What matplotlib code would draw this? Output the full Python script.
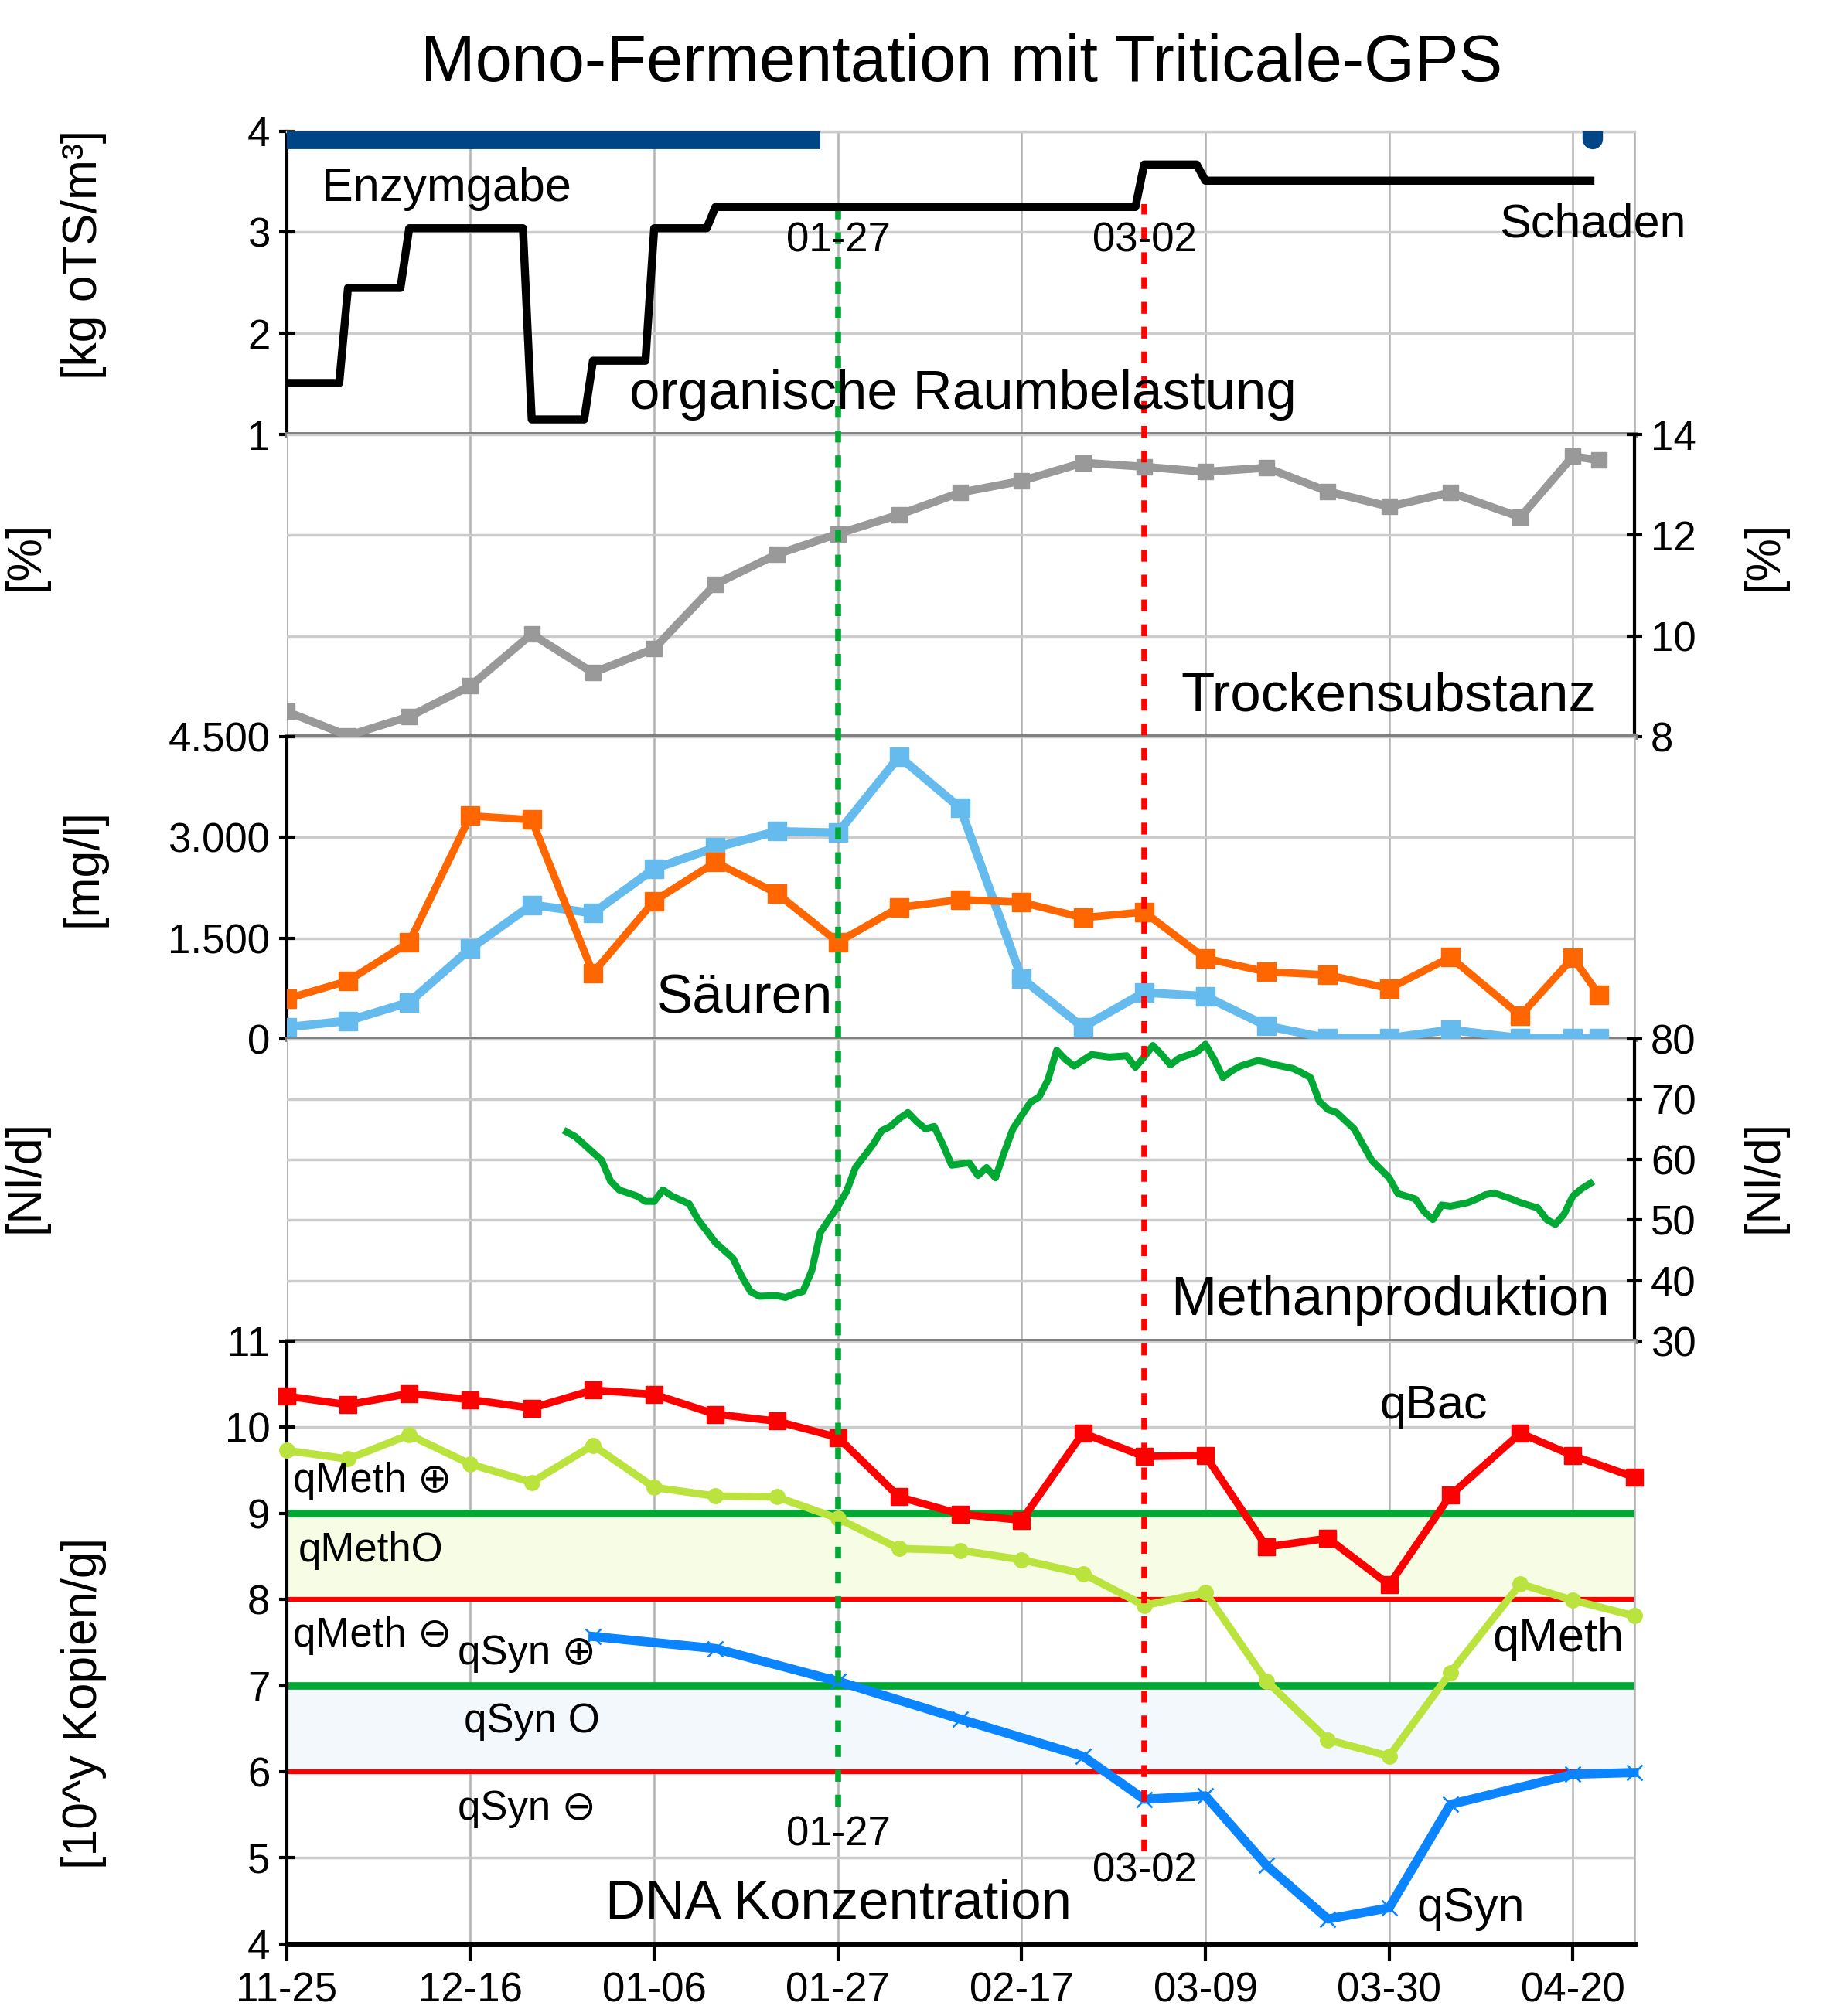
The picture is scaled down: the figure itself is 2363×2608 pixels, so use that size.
import matplotlib
matplotlib.use("Agg")
import matplotlib.pyplot as plt
import matplotlib.transforms as mtransforms
from matplotlib.lines import Line2D

plt.rcParams['font.family'] = ['Liberation Sans', 'DejaVu Sans']

# x axis: days since 2015-11-25
tick_days = [0, 21, 42, 63, 84, 105, 126, 147]
tick_labels = ["11-25", "12-16", "01-06", "01-27", "02-17", "03-09", "03-30", "04-20"]
x_max = 154
marker_days = {"01-27": 63, "03-02": 98}

# organische Raumbelastung [kg oTS/m3]
orb_days = [0, 6, 7, 13, 14, 27, 28, 34, 35, 41, 42, 48, 49, 97, 98, 104, 105, 149]
orb_vals = [1.51, 1.51, 2.45, 2.45, 3.04, 3.04, 1.15, 1.15, 1.73, 1.73, 3.04, 3.04,
            3.25, 3.25, 3.67, 3.67, 3.51, 3.51]
enzym_days = [0, 61]
schaden_day = 149.3

# Trockensubstanz [%]
ts_days = [0, 7, 14, 21, 28, 35, 42, 49, 56, 63, 70, 77, 84, 91, 98, 105, 112, 119,
           126, 133, 141, 147, 150]
ts_vals = [8.50, 8.02, 8.40, 9.01, 10.04, 9.27, 9.75, 11.03, 11.62, 12.03, 12.41, 12.85,
           13.08, 13.44, 13.36, 13.26, 13.34, 12.87, 12.57, 12.85, 12.36, 13.57, 13.49]

# Säuren [mg/l]
acid_days = [0, 7, 14, 21, 28, 35, 42, 49, 56, 63, 70, 77, 84, 91, 98, 105, 112, 119,
             126, 133, 141, 147, 150]
acid_orange = [595, 864, 1440, 3321, 3263, 979, 2054, 2630, 2169, 1440, 1958, 2073,
               2035, 1804, 1889, 1198, 998, 952, 749, 1217, 346, 1209, 653]
acid_blue = [173, 269, 545, 1344, 1996, 1873, 2534, 2849, 3091, 3071, 4204, 3436,
             902, 173, 691, 634, 192, 10, 10, 134, 10, 10, 10]

# Methanproduktion [Nl/d]
ch4_days = [32, 33, 34, 36, 37, 38, 40, 41, 42, 43, 44, 46, 47, 49, 51, 52, 53, 54, 56,
            57, 58, 59, 60, 61, 63, 64, 65, 67, 68, 69, 70, 71, 72, 73, 74, 75, 76, 77,
            78, 79, 80, 81, 82, 83, 85, 86, 87, 88, 89, 90, 92, 93, 94, 96, 97, 98, 99,
            100, 101, 102, 104, 105, 106, 107, 108, 109, 111, 112, 113, 115, 116, 117,
            118, 119, 120, 122, 123, 124, 126, 127, 129, 130, 131, 132, 133, 135, 136,
            137, 138, 140, 141, 143, 144, 145, 146, 147, 148, 149]
ch4_vals = [64.6, 63.8, 62.5, 59.9, 56.5, 55.0, 54.0, 53.1, 53.1, 55.0, 54.0, 52.7,
            50.1, 46.3, 43.7, 40.7, 38.2, 37.4, 37.5, 37.2, 37.8, 38.2, 41.6, 48.0,
            52.3, 54.8, 58.7, 62.5, 64.8, 65.5, 66.8, 67.8, 66.3, 65.1, 65.5, 62.5,
            59.1, 59.3, 59.5, 57.4, 58.7, 57.0, 61.2, 65.1, 69.5, 70.4, 73.2, 78.1,
            76.6, 75.5, 77.4, 77.2, 77.0, 77.2, 75.3, 77.0, 78.9, 77.4, 75.7, 76.8,
            77.8, 79.1, 76.6, 73.6, 74.7, 75.5, 76.4, 76.1, 75.7, 75.1, 74.4, 73.6,
            69.7, 68.3, 67.8, 65.1, 62.5, 59.9, 57.0, 54.4, 53.5, 51.4, 50.1, 52.5,
            52.3, 52.9, 53.5, 54.2, 54.5, 53.5, 52.9, 52.0, 50.1, 49.3, 51.0, 54.0,
            55.2, 56.1]

# DNA Konzentration [10^y Kopien/g]
dna_days = [0, 7, 14, 21, 28, 35, 42, 49, 56, 63, 70, 77, 84, 91, 98, 105, 112, 119,
            126, 133, 141, 147, 154]
qbac = [10.36, 10.26, 10.39, 10.32, 10.22, 10.43, 10.38, 10.15, 10.07, 9.88, 9.19,
        8.99, 8.92, 9.93, 9.66, 9.67, 8.61, 8.71, 8.17, 9.21, 9.93, 9.67, 9.42]
qmeth = [9.73, 9.63, 9.91, 9.57, 9.36, 9.79, 9.30, 9.20, 9.19, 8.94, 8.59, 8.57,
         8.46, 8.30, 7.93, 8.08, 7.05, 6.37, 6.18, 7.15, 8.18, 7.99, 7.81]
qsyn_days = [35, 49, 63, 77, 91, 98, 105, 112, 119, 126, 133, 147, 154]
qsyn = [7.57, 7.43, 7.05, 6.61, 6.18, 5.68, 5.72, 4.91, 4.29, 4.42, 5.62, 5.97, 5.99]
qmeth_band = [8, 9]
qsyn_band = [6, 7]

# --- layout (figure fractions) ---
W, H = 1421.0, 1568.0
left, right = 223 / W, 1271 / W
edges = [102, 338, 573, 808, 1043, 1512]
fig = plt.figure(figsize=(23.63, 26.08), dpi=100)
axes = []
for i in range(5):
    y0 = 1 - edges[i + 1] / H
    y1 = 1 - edges[i] / H
    axes.append(fig.add_axes([left, y0, right - left, y1 - y0]))
ax1, ax2, ax3, ax4, ax5 = axes

for ax in axes:
    ax.set_xlim(0, x_max)
    ax.set_xticks(tick_days)
    ax.grid(axis='x', color='#b3b3b3', lw=1.8, zorder=0)
    ax.grid(axis='y', color='#cccccc', lw=2.5)
    ax.set_axisbelow(True)
    ax.spines['top'].set_visible(False)
    ax.spines['bottom'].set_color('#808080')
    ax.spines['bottom'].set_linewidth(5)
    ax.tick_params(axis='x', length=0, labelbottom=False)
    ax.tick_params(axis='y', direction='inout', length=15, width=3, labelsize=38, pad=8)
    for s in ('left', 'right'):
        ax.spines[s].set_color('#b3b3b3')
        ax.spines[s].set_linewidth(1.8)

for ax in (ax1, ax3, ax5):
    ax.spines['left'].set_color('black')
    ax.spines['left'].set_linewidth(3)
for ax in (ax2, ax4):
    ax.spines['right'].set_color('black')
    ax.spines['right'].set_linewidth(3)
    ax.yaxis.tick_right()
    ax.spines['left'].set_visible(False)

# panel 1
ax1.spines['top'].set_visible(True)
ax1.spines['top'].set_color('#cccccc')
ax1.spines['top'].set_linewidth(2.5)
ax1.set_ylim(1, 4)
ax1.set_yticks([1, 2, 3, 4])
ax1.plot(enzym_days, [4, 4], color='#004586', lw=33, solid_capstyle='butt', zorder=3)
ax1.plot([schaden_day, schaden_day], [3.92, 4.1], color='#004586', lw=19,
         solid_capstyle='round', zorder=3)
ax1.plot(orb_days, orb_vals, color='black', lw=7.5, solid_joinstyle='round', zorder=4)

# panel 2
ax2.set_ylim(8, 14)
ax2.set_yticks([8, 10, 12, 14])
ax2.plot(ts_days, ts_vals, color='#999999', lw=7.5, marker='s', ms=14, zorder=4)

# panel 3
ax3.set_ylim(0, 4500)
ax3.set_yticks([0, 1500, 3000, 4500])
ax3.set_yticklabels(["0", "1.500", "3.000", "4.500"])
ax3.plot(acid_days, acid_blue, color='#66bbee', lw=8, marker='s', ms=17, zorder=4)
ax3.plot(acid_days, acid_orange, color='#ff6600', lw=7, marker='s', ms=17, zorder=4)

# panel 4
ax4.set_ylim(30, 80)
ax4.set_yticks([30, 40, 50, 60, 70, 80])
ax4.plot(ch4_days, ch4_vals, color='#00a933', lw=6.5, zorder=4)

# panel 5
ax5.set_ylim(4, 11)
ax5.set_yticks(range(4, 12))
ax5.spines['bottom'].set_color('black')
ax5.spines['bottom'].set_linewidth(5)
ax5.tick_params(axis='x', direction='out', length=16, width=3, labelbottom=True,
                labelsize=38, pad=10)
ax5.set_xticklabels(tick_labels)
ax5.axhspan(qmeth_band[0], qmeth_band[1], color='#f6fde4', zorder=1)
ax5.axhspan(qsyn_band[0], qsyn_band[1], color='#f3f8fd', zorder=1)
for lo, hi in (qmeth_band, qsyn_band):
    ax5.axhline(hi, color='#00a933', lw=7, zorder=2)
    ax5.axhline(lo, color='#ff0000', lw=4.5, zorder=2)
ax5.plot(dna_days, qbac, color='#ff0000', lw=7, marker='s', ms=16, zorder=4, clip_on=False)
ax5.plot(dna_days, qmeth, color='#bbe33d', lw=7, marker='o', ms=14, zorder=4, clip_on=False)
ax5.plot(qsyn_days, qsyn, color='#0a84ff', lw=8.5, marker='x', ms=15, mew=1.8, zorder=4,
         clip_on=False)

# vertical event lines across all panels
trans = mtransforms.blended_transform_factory(ax5.transData, fig.transFigure)
fig.add_artist(Line2D([marker_days["01-27"]] * 2, [0.104, 0.8954], transform=trans,
                      color='#00a933', lw=5.5, ls=(0, (2, 2.2)), zorder=10))
fig.add_artist(Line2D([marker_days["03-02"]] * 2, [0.0816, 0.8986], transform=trans,
                      color='#ff0000', lw=5.5, ls=(0, (2, 2.2)), zorder=10))

def ft(x, y, s, size, ha='center', rot=0):
    fig.text(x / W, 1 - y / H, s, fontsize=size, ha=ha, va='center', rotation=rot,
             zorder=20)

ft(748, 50, "Mono-Fermentation mit Triticale-GPS", 61)
ft(65, 198, "[kg oTS/m³]", 45, rot=90)
ft(20, 432, "[%]", 45, rot=90)
ft(1372, 432, "[%]", 45, rot=90)
ft(65, 675, "[mg/l]", 45, rot=90)
ft(20, 915, "[Nl/d]", 45, rot=90)
ft(1372, 915, "[Nl/d]", 45, rot=90)
ft(65, 1325, "[10^y Kopien/g]", 45, rot=90)

ft(250, 147, "Enzymgabe", 44, ha='left')
ft(652, 187, "01-27", 38)
ft(890, 187, "03-02", 38)
ft(1239, 175, "Schaden", 44)
ft(749, 307, "organische Raumbelastung", 51)
ft(1080, 542, "Trockensubstanz", 51)
ft(579, 777, "Säuren", 51)
ft(1081, 1012, "Methanproduktion", 51)
ft(1115, 1094, "qBac", 44)
ft(228, 1152, "qMeth ⊕", 38, ha='left')
ft(232, 1206, "qMethO", 38, ha='left')
ft(228, 1272, "qMeth ⊖", 38, ha='left')
ft(356, 1286, "qSyn ⊕", 38, ha='left')
ft(361, 1339, "qSyn O", 38, ha='left')
ft(356, 1407, "qSyn ⊖", 38, ha='left')
ft(1212, 1275, "qMeth", 44)
ft(652, 1427, "01-27", 38)
ft(890, 1455, "03-02", 38)
ft(652, 1481, "DNA Konzentration", 51)
ft(1144, 1485, "qSyn", 44)

fig.savefig("out.png", dpi=100)
